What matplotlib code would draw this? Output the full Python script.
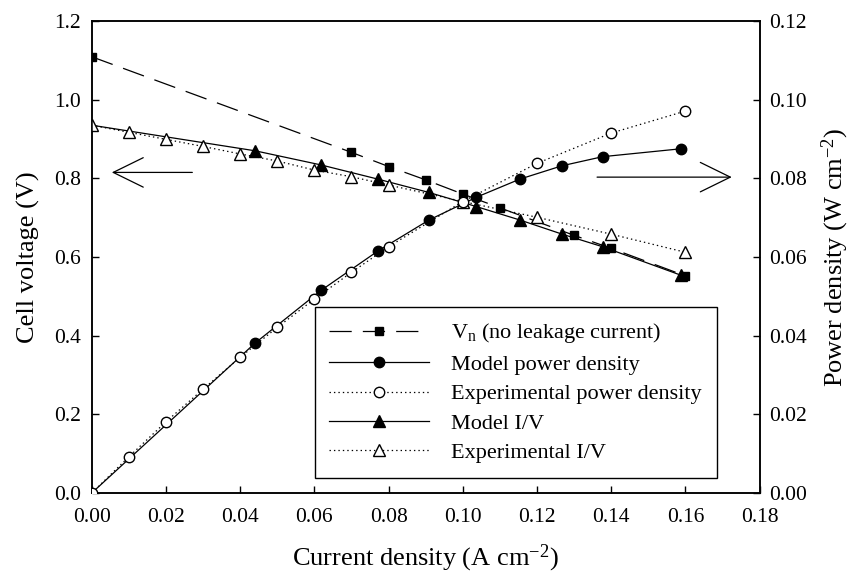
import matplotlib
matplotlib.use("Agg")
import matplotlib.pyplot as plt
from matplotlib.ticker import FormatStrFormatter, MultipleLocator

plt.rcParams['font.family'] = ['Liberation Serif', 'DejaVu Serif']
plt.rcParams['mathtext.fontset'] = 'custom'
plt.rcParams['mathtext.rm'] = 'Liberation Serif'
plt.rcParams['mathtext.it'] = 'Liberation Serif:italic'
plt.rcParams['lines.scale_dashes'] = False

# ---------------- data ----------------
# V_n (no leakage current)
vn_i = [0.0, 0.07, 0.08, 0.09, 0.10, 0.11, 0.13, 0.14, 0.16]
vn_v = [1.109, 0.866, 0.830, 0.796, 0.760, 0.725, 0.655, 0.622, 0.552]

# Model (first point at i = 0 is drawn without a marker)
model_i = [0.0, 0.044, 0.0618, 0.0771, 0.0909, 0.1037, 0.1154, 0.1268, 0.1377, 0.1587]
model_v = [0.935, 0.870, 0.834, 0.798, 0.764, 0.728, 0.694, 0.658, 0.626, 0.554]
model_p = [0.0, 0.0381, 0.0515, 0.0615, 0.0694, 0.0752, 0.0798, 0.0832, 0.0855, 0.0875]

# Experimental
exp_i = [0.0, 0.01, 0.02, 0.03, 0.04, 0.05, 0.06, 0.07, 0.08, 0.10, 0.12, 0.14, 0.16]
exp_v = [0.935, 0.917, 0.899, 0.881, 0.862, 0.844, 0.821, 0.804, 0.783, 0.741, 0.701, 0.658, 0.612]
exp_p = [0.0, 0.0092, 0.0181, 0.0264, 0.0345, 0.0421, 0.0493, 0.0561, 0.0626, 0.0741, 0.0838, 0.0915, 0.0971]

labels = ["V$_\\mathrm{n}$ (no leakage current)", "Model power density",
          "Experimental power density", "Model I/V", "Experimental I/V"]

xticks = [0.00, 0.02, 0.04, 0.06, 0.08, 0.10, 0.12, 0.14, 0.16, 0.18]
# arrows (data coordinates on voltage axis)
left_arrow = ((0.0271, 0.815), (0.0054, 0.815))
right_arrow = ((0.1362, 0.803), (0.1725, 0.803))

# ---------------- figure ----------------
fig = plt.figure(figsize=(8.57, 5.78), dpi=100)
ax = fig.add_axes([0.1071, 0.1471, 0.7792, 0.8166])
ax2 = ax.twinx()

dotted = (0, (1, 2.2))
dashed = (0, (16, 8))
lw = 0.9

l_vn, = ax.plot(vn_i, vn_v, color='k', lw=lw, linestyle=dashed, marker='s',
                markersize=6, markerfacecolor='k', markeredgecolor='k', zorder=2)
l_miv, = ax.plot(model_i, model_v, color='k', lw=lw, linestyle='-', marker='^',
                 markersize=8, markerfacecolor='k', markeredgecolor='k',
                 markevery=slice(1, None), zorder=3)
l_eiv, = ax.plot(exp_i, exp_v, color='k', lw=lw, linestyle=dotted, marker='^',
                 markersize=8, markerfacecolor='white', markeredgecolor='k',
                 markeredgewidth=1.0, zorder=4)

l_mp, = ax2.plot(model_i, model_p, color='k', lw=lw, linestyle='-', marker='o',
                 markersize=7.5, markerfacecolor='k', markeredgecolor='k',
                 markevery=slice(1, None), zorder=3)
l_ep, = ax2.plot(exp_i, exp_p, color='k', lw=lw, linestyle=dotted, marker='o',
                 markersize=7.5, markerfacecolor='white', markeredgecolor='k',
                 markeredgewidth=1.0, zorder=4)

ax.set_xlim(0, 0.18)
ax.set_ylim(0, 1.2)
ax2.set_ylim(0, 0.12)
ax.set_xticks(xticks)
ax.xaxis.set_major_formatter(FormatStrFormatter('%.2f'))
ax.yaxis.set_major_locator(MultipleLocator(0.2))
ax.yaxis.set_major_formatter(FormatStrFormatter('%.1f'))
ax2.yaxis.set_major_locator(MultipleLocator(0.02))
ax2.yaxis.set_major_formatter(FormatStrFormatter('%.2f'))

fs_tick = 15.5
for a in (ax, ax2):
    a.tick_params(direction='in', length=5, width=1.0, labelsize=fs_tick)
    for s in a.spines.values():
        s.set_linewidth(1.1)
ax.tick_params(axis='x', pad=11)
ax.tick_params(axis='y', pad=8)
ax2.tick_params(axis='y', pad=7)

fs_label = 19
ax.set_xlabel("Current density (A cm$^{-2}$)", fontsize=fs_label, labelpad=11)
ax.set_ylabel("Cell voltage (V)", fontsize=fs_label, labelpad=10)
ax2.set_ylabel("Power density (W cm$^{-2}$)", fontsize=fs_label, labelpad=9)

arrow_style = '->,head_length=21.6,head_width=10.6'
for (start, end) in (left_arrow, right_arrow):
    ax.annotate('', xy=end, xytext=start, xycoords='data', textcoords='data',
                arrowprops=dict(arrowstyle=arrow_style, mutation_scale=1,
                                color='k', lw=0.9, shrinkA=0, shrinkB=0))

leg = ax2.legend([l_vn, l_mp, l_ep, l_miv, l_eiv], labels,
                 loc='upper left', bbox_to_anchor=(0.334, 0.394),
                 fontsize=16, frameon=True, fancybox=False, framealpha=1,
                 edgecolor='k', numpoints=1, handlelength=4.5,
                 handletextpad=1.0, labelspacing=0.4, borderpad=0.65,
                 borderaxespad=0)
leg.get_frame().set_linewidth(1.0)
leg.set_zorder(10)

fig.savefig("out.png", dpi=100)
